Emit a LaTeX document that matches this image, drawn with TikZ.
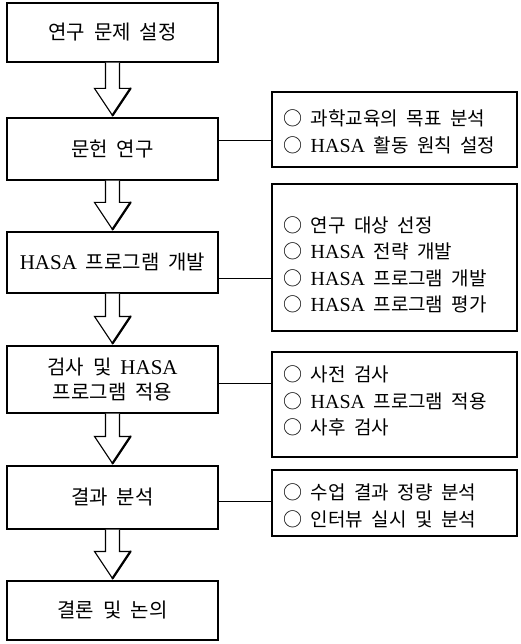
\documentclass[tikz,border=0pt]{standalone}
\usepackage{fontspec}
\setmainfont{Liberation Serif}
\newfontfamily\kr{Noto Sans CJK KR}[WordSpace=2.0]
\newfontfamily\lat{Liberation Serif}[Scale=1.05]
\usetikzlibrary{calc}
\newcommand\HA{{\lat HASA}}
\tikzset{
  box/.style={draw, line width=1.1pt, minimum width=211pt, inner sep=0pt,
    font=\kr\fontsize{20}{25.5}\selectfont, align=center},
  sidebox/.style={draw, line width=1.1pt, minimum width=245pt, inner sep=0pt},
  listtext/.style={font=\kr\fontsize{19}{26.5}\selectfont, align=left, anchor=west, inner sep=0pt},
  link/.style={line width=0.9pt},
  arrowline/.style={line width=1.1pt, fill=white, line join=miter},
  arrowedge/.style={line width=2.2pt, line cap=round},
}
\newcommand\flowarrow[2]{%
  \draw[arrowline] let \p1=(#1.south), \p2=(#2.north) in
    (\x1-7pt,\y1) -- (\x1-7pt,\y2+29pt) -- (\x1-18pt,\y2+29pt) -- (\x1,\y2+2pt)
    -- (\x1+18pt,\y2+29pt) -- (\x1+7pt,\y2+29pt) -- (\x1+7pt,\y1);
  \draw[arrowedge] let \p1=(#1.south), \p2=(#2.north) in
    (\x1,\y2+2pt) -- (\x1+18pt,\y2+29pt);
}
\begin{document}
\begin{tikzpicture}[x=1pt,y=-1pt]
\useasboundingbox (0,0) rectangle (521,644);

% left column
\node[box, minimum height=59pt] (b1) at (112.5,32.5) {연구 문제 설정};
\node[box, minimum height=62pt] (b2) at (112.5,149) {문헌 연구};
\node[box, minimum height=61pt] (b3) at (112.5,262.5) {\HA{} 프로그램 개발};
\node[box, minimum height=67pt] (b4) at (112.5,379.5) {검사 및 \HA\\프로그램 적용};
\node[box, minimum height=63pt] (b5) at (112.5,497.5) {결과 분석};
\node[box, minimum height=59pt] (b6) at (112.5,610.5) {결론 및 논의};

% arrows
\flowarrow{b1}{b2}
\flowarrow{b2}{b3}
\flowarrow{b3}{b4}
\flowarrow{b4}{b5}
\flowarrow{b5}{b6}

% right column
\node[sidebox, minimum height=75pt] (ra) at (394.5,129.5) {};
\node[listtext] (ta) at (283,132) {○ 과학교육의 목표 분석\\○ \HA{} 활동 원칙 설정};

\node[sidebox, minimum height=147pt] (rb) at (394.5,257.5) {};
\node[listtext] (tb) at (283,265) {○ 연구 대상 선정\\○ \HA{} 전략 개발\\○ \HA{} 프로그램 개발\\○ \HA{} 프로그램 평가};

\node[sidebox, minimum height=105pt] (rc) at (394.5,404.5) {};
\node[listtext] (tc) at (283,401) {○ 사전 검사\\○ \HA{} 프로그램 적용\\○ 사후 검사};

\node[sidebox, minimum height=66pt] (rd) at (394.5,503) {};
\node[listtext] (td) at (283,506) {○ 수업 결과 정량 분석\\○ 인터뷰 실시 및 분석};

% connectors
\coordinate (ya) at (0,140);
\coordinate (yb) at (0,278);
\coordinate (yc) at (0,383);
\coordinate (yd) at (0,501);
\draw[link] (b2.east |- ya) -- (ra.west |- ya);
\draw[link] (b3.east |- yb) -- (rb.west |- yb);
\draw[link] (b4.east |- yc) -- (rc.west |- yc);
\draw[link] (b5.east |- yd) -- (rd.west |- yd);
\end{tikzpicture}
\end{document}
